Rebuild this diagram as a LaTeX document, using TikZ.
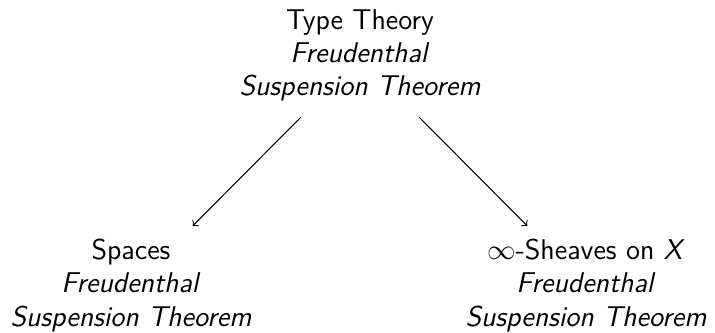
\documentclass[tikz,border=0pt]{standalone}
\renewcommand{\familydefault}{\sfdefault}
\begin{document}
\begin{tikzpicture}[x=0.3846pt,y=-0.3846pt,
  lbl/.style={align=center,inner sep=0pt,anchor=base,font=\fontsize{11}{12.7}\selectfont},
  arr/.style={->,line width=0.4pt}]
\useasboundingbox (0,0) rectangle (715,332);
\node[lbl] (top) at (360,95.3) {Type Theory\\\textit{Freudenthal}\\\textit{Suspension Theorem}};
\node[lbl] (left) at (131,326) {Spaces\\\textit{Freudenthal}\\\textit{Suspension Theorem}};
\node[lbl] (right) at (586,326) {$\infty$-Sheaves on \textit{X}\\\textit{Freudenthal}\\\textit{Suspension Theorem}};
\draw[arr] ([shift={(-59.3,22)}]top.base) -- ([shift={(61.7,-100)}]left.base);
\draw[arr] ([shift={(59.3,22)}]top.base) -- ([shift={(-58.7,-100)}]right.base);
\end{tikzpicture}
\end{document}
